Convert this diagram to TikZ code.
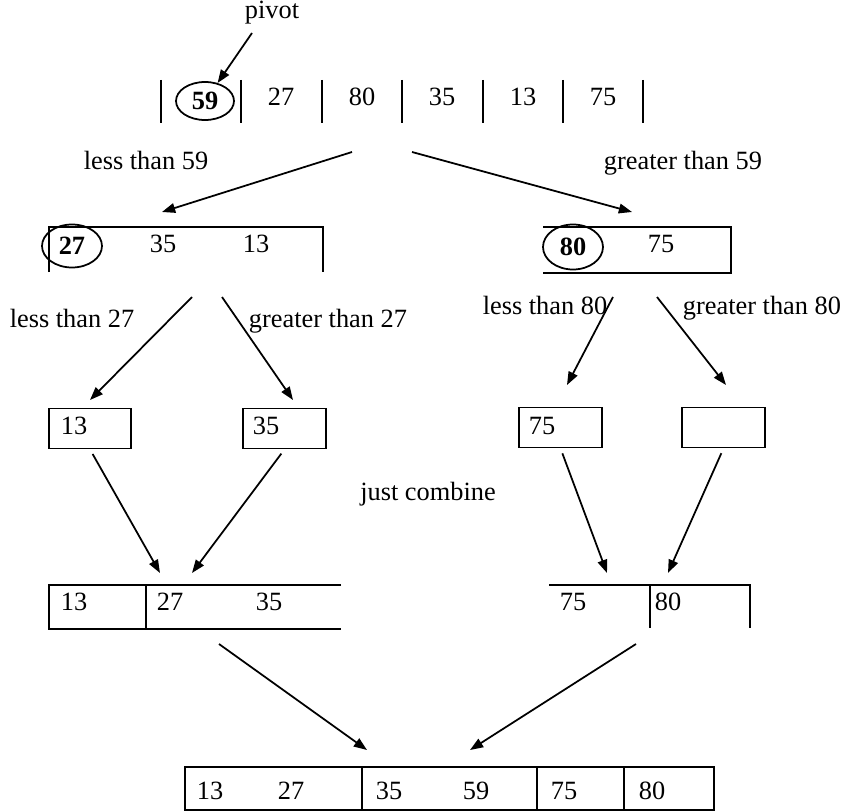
\documentclass[tikz,border=0pt]{standalone}
\usepackage{fontspec}
\setmainfont{Liberation Serif}
\usetikzlibrary{arrows.meta}
\usetikzlibrary{shapes.geometric}

\tikzset{
        num/.style={anchor=base, inner sep=0pt},
        numw/.style={anchor=base west, inner sep=0pt},
        pivnum/.style={draw, ellipse, inner sep=0pt, font=\fontsize{15}{18}\selectfont\bfseries},
        leaf/.style={draw, inner sep=0pt, minimum width=1.65cm, minimum height=0.8cm},
        arr/.style={-{Triangle[length=7.5pt,width=5.5pt]}}
}

\begin{document}
\begin{tikzpicture}[x=0.02cm, y=-0.02cm, line width=1pt, font=\fontsize{15}{18}\selectfont]
        \useasboundingbox (0,0) rectangle (852,811);

        \node[num] (pivot) at (272,19) {pivot};
        \coordinate (pivs) at (252,33);
        \node[pivnum, minimum width=1.16cm, minimum height=0.76cm] (e59) at (205,101) {59};
        \draw[arr] (pivs) -- (e59.55);
        \foreach \x in {161,241,322,402,483,563,643}
                \draw (\x,80) -- (\x,123);
        \foreach \v/\x in {27/281,80/362,35/442,13/523,75/603}
                \node[num] (top\v) at (\x,106) {\v};

        \node[num] (l59) at (146,170) {less than 59};
        \node[num] (g59) at (683,170) {greater than 59};
        \coordinate (s1) at (352,152);
        \coordinate (s2) at (412,152);
        \coordinate (t1) at (162,212);
        \coordinate (t2) at (632,212);
        \draw[arr] (s1) -- (t1);
        \draw[arr] (s2) -- (t2);

        \draw (49,272) -- (49,227) -- (323,227) -- (323,272);
        \node[pivnum, minimum width=1.2cm, minimum height=0.86cm] (e27) at (72,246) {27};
        \node[num] (m35) at (163,252) {35};
        \node[num] (m13) at (256,252) {13};

        \draw (543,227) -- (731,227) -- (731,273) -- (543,273);
        \node[pivnum, minimum width=1.2cm, minimum height=0.9cm] (e80) at (573,247) {80};
        \node[num] (m75) at (661,252) {75};

        \node[num] (l27) at (72,327) {less than 27};
        \node[num] (g27) at (328,327) {greater than 27};
        \node[num] (l80) at (545,314) {less than 80};
        \node[num] (g80) at (762,314) {greater than 80};
        \coordinate (s3) at (192,297);
        \coordinate (s4) at (222,297);
        \coordinate (s5) at (613,297);
        \coordinate (s6) at (657,297);
        \coordinate (t3) at (90,400);
        \coordinate (t4) at (293,400);
        \coordinate (t5) at (567,385);
        \coordinate (t6) at (726,385);
        \draw[arr] (s3) -- (t3);
        \draw[arr] (s4) -- (t4);
        \draw[arr] (s5) -- (t5);
        \draw[arr] (s6) -- (t6);

        \node[leaf] (b13) at (90,428.5) {};
        \node[leaf] (b35) at (284.5,428.5) {};
        \node[leaf] (b75) at (560.5,427.5) {};
        \node[leaf] (bnil) at (723.5,427.5) {};
        \node[numw] (v13) at (60,434) {13};
        \node[numw] (v35) at (252,434) {35};
        \node[numw] (v75) at (528,434) {75};

        \node[num] (just) at (428,500) {just combine};
        \coordinate (t7) at (160,573);
        \coordinate (t8) at (192,573);
        \coordinate (t9) at (607,573);
        \coordinate (t10) at (668,573);
        \draw[arr, shorten <=3pt] (b13.south) -- (t7);
        \draw[arr, shorten <=3pt] (b35.south) -- (t8);
        \draw[arr, shorten <=3pt] (b75.south) -- (t9);
        \draw[arr, shorten <=3pt] (bnil.south) -- (t10);

        \draw (341,585) -- (49,585) -- (49,629) -- (341,629);
        \draw (146,585) -- (146,629);
        \node[numw] (c13) at (60,610) {13};
        \node[numw] (c27) at (156,610) {27};
        \node[numw] (c35) at (255,610) {35};
        \draw (549,585) -- (750,585) -- (750,628);
        \draw (650,585) -- (650,628);
        \node[numw] (c75) at (559,610) {75};
        \node[numw] (c80) at (654,610) {80};

        \coordinate (s11) at (219,644);
        \coordinate (s12) at (636,644);
        \coordinate (t11) at (367,750);
        \coordinate (t12) at (470,750);
        \draw[arr] (s11) -- (t11);
        \draw[arr] (s12) -- (t12);

        \draw (185,767) rectangle (714,810);
        \foreach \x in {362,537,624}
                \draw (\x,767) -- (\x,810);
        \foreach \v/\x in {13/196,27/277,35/375,59/462,75/550,80/638}
                \node[numw] (f\v) at (\x,799) {\v};
\end{tikzpicture}
\end{document}
